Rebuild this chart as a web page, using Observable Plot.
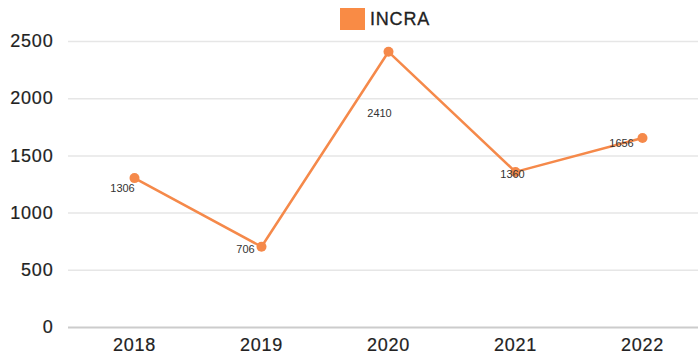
<!DOCTYPE html>
<html>
<head>
<meta charset="utf-8">
<script src="https://cdn.jsdelivr.net/npm/d3@7"></script>
<script src="https://cdn.jsdelivr.net/npm/@observablehq/plot@0.6"></script>
<style>
  html, body { margin: 0; padding: 0; background: #fff; }
  #wrap { position: relative; width: 698px; height: 356px; overflow: hidden; font-family: "Liberation Sans", Arial, sans-serif; }
  #legend { position: absolute; left: 340px; top: 8px; display: flex; align-items: center; gap: 5px; }
  #legend .sw { width: 25px; height: 22px; background: #f98b45; }
  #legend .lb { font-size: 18px; color: #222; letter-spacing: 0.8px; -webkit-text-stroke: 0.3px #222; }
</style>
</head>
<body>
<div id="wrap"></div>
<script>
// Yearly totals for INCRA
const years = ["2018", "2019", "2020", "2021", "2022"];
const values = [1306, 706, 2410, 1360, 1656];
const yTicks = [0, 500, 1000, 1500, 2000, 2500];
const seriesName = "INCRA";

const data = years.map((year, i) => ({year, value: values[i]}));
const orange = "#f5894a";

// label nudges (dx, dy) per point so the numbers sit beside the markers
const nudges = [[-12, 10], [-16, 3], [-9, 62], [-3, 3], [-21, 5]];

const labelMarks = data.map((d, i) =>
  Plot.text([d], {
    x: "year", y: "value", text: (v) => String(v.value),
    dx: nudges[i][0], dy: nudges[i][1],
    fontSize: 11, fill: "#333", fontFamily: "Liberation Sans, Arial, sans-serif"
  })
);

const chart = Plot.plot({
  width: 698,
  height: 356,
  marginLeft: 68,
  marginRight: 0,
  marginTop: 41,
  marginBottom: 29,
  style: {fontFamily: "Liberation Sans, Arial, sans-serif", background: "#fff", overflow: "hidden"},
  x: {type: "point", domain: years, range: [132, 643], padding: 0, label: null},
  y: {domain: [0, 2500], ticks: yTicks, label: null},
  marks: [
    Plot.ruleY(yTicks.filter((t) => t > 0), {stroke: "#e6e6e6", strokeWidth: 1.5}),
    Plot.ruleY([0], {stroke: "#cccccc", strokeWidth: 2}),
    Plot.axisY({ticks: yTicks, tickFormat: "d", tickSize: 0, tickPadding: 15, fontSize: 18, fill: "#222", label: null, textAnchor: "end"}),
    Plot.axisX({tickSize: 0, tickPadding: 11, fontSize: 18, fill: "#222", label: null}),
    Plot.line(data, {x: "year", y: "value", stroke: orange, strokeWidth: 2.5, curve: "linear"}),
    Plot.dot(data, {x: "year", y: "value", r: 5, fill: orange, stroke: "none"}),
    ...labelMarks
  ]
});
// slightly heavier tick labels
chart.querySelectorAll("g[aria-label='y-axis tick label'] text, g[aria-label='x-axis tick label'] text").forEach((t) => {
  t.setAttribute("letter-spacing", "0.8");
  t.setAttribute("stroke", "#222");
  t.setAttribute("stroke-width", "0.2");
});

const wrap = document.getElementById("wrap");
wrap.appendChild(chart);
const legend = document.createElement("div");
legend.id = "legend";
legend.innerHTML = `<div class="sw"></div><div class="lb"></div>`;
legend.querySelector(".lb").textContent = seriesName;
wrap.appendChild(legend);
</script>
</body>
</html>
